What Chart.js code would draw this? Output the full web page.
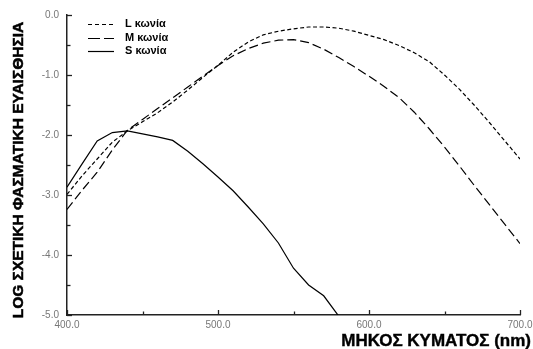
<!DOCTYPE html>
<html>
<head>
<meta charset="utf-8">
<script src="https://cdn.jsdelivr.net/npm/chart.js@4"></script>
<style>
html,body{margin:0;padding:0;background:#fff;}
#wrap{width:533px;height:349px;}
</style>
</head>
<body>
<div id="wrap"><canvas id="c" width="533" height="349"></canvas></div>
<script>
// ---- data ----
const wavelengthsLM = [400,410,420,430,440,450,460,470,480,490,500,510,520,530,540,550,560,570,580,590,600,610,620,630,640,650,660,670,680,690,700];
const lCone = [-2.99,-2.68,-2.40,-2.12,-1.93,-1.78,-1.63,-1.45,-1.25,-1.04,-0.84,-0.62,-0.45,-0.33,-0.27,-0.23,-0.20,-0.20,-0.22,-0.27,-0.34,-0.41,-0.51,-0.63,-0.78,-1.00,-1.24,-1.51,-1.80,-2.10,-2.40];
const mCone = [-3.24,-2.92,-2.62,-2.25,-1.92,-1.74,-1.56,-1.38,-1.20,-1.02,-0.84,-0.68,-0.56,-0.47,-0.42,-0.41,-0.46,-0.57,-0.71,-0.86,-1.02,-1.19,-1.38,-1.62,-1.90,-2.20,-2.52,-2.85,-3.17,-3.49,-3.81];
const wavelengthsS = [400,410,420,430,440,450,460,470,480,490,500,510,520,530,540,550,560,570,580];
const sCone = [-2.87,-2.48,-2.10,-1.96,-1.93,-1.98,-2.03,-2.09,-2.27,-2.48,-2.70,-2.93,-3.20,-3.48,-3.80,-4.22,-4.50,-4.68,-5.02];
const seriesLabels = ['L κωνία','M κωνία','S κωνία'];
const xTicks = [400,500,600,700];
const yTicks = [0,-1,-2,-3,-4,-5];
const xTitle = 'ΜΗΚΟΣ ΚΥΜΑΤΟΣ (nm)';
const yTitle = 'LOG ΣΧΕΤΙΚΗ ΦΑΣΜΑΤΙΚΗ ΕΥΑΙΣΘΗΣΙΑ';

const toXY = (xs, ys) => xs.map((x, i) => ({x: x, y: ys[i]}));

const FONT = "'Liberation Sans', Arial, sans-serif";

// inward major/minor ticks drawn from the scales
const tickPlugin = {
  id: 'inwardTicks',
  afterDraw(chart) {
    const ctx = chart.ctx, xs = chart.scales.x, ys = chart.scales.y;
    const a = chart.chartArea;
    ctx.save();
    ctx.strokeStyle = '#222';
    ctx.lineWidth = 1.3;
    for (let v = xs.min; v <= xs.max + 1e-9; v += 50) {
      const px = Math.round(xs.getPixelForValue(v)) + 0.5;
      const len = (v % 100 === 0) ? 5 : 3.5;
      ctx.beginPath(); ctx.moveTo(px, a.bottom); ctx.lineTo(px, a.bottom - len); ctx.stroke();
    }
    for (let v = ys.min; v <= ys.max + 1e-9; v += 0.5) {
      const py = Math.round(ys.getPixelForValue(v)) + 0.5;
      const len = (Math.abs(v % 1) < 1e-9) ? 5 : 3.5;
      ctx.beginPath(); ctx.moveTo(a.left, py); ctx.lineTo(a.left + len, py); ctx.stroke();
    }
    ctx.restore();
  }
};

// axis titles
const titlePlugin = {
  id: 'axisTitles',
  afterDraw(chart) {
    const ctx = chart.ctx;
    ctx.save();
    ctx.fillStyle = '#000';
    ctx.strokeStyle = '#000';
    ctx.lineWidth = 0.5;
    ctx.font = 'bold 15.5px ' + FONT;
    ctx.textAlign = 'center';
    ctx.textBaseline = 'middle';
    ctx.translate(19, 170);
    ctx.rotate(-Math.PI / 2);
    ctx.fillText(yTitle, 0, 0);
    ctx.strokeText(yTitle, 0, 0);
    ctx.restore();
    ctx.save();
    ctx.fillStyle = '#000';
    ctx.strokeStyle = '#000';
    ctx.lineWidth = 0.4;
    ctx.font = 'bold 17px ' + FONT;
    ctx.textAlign = 'right';
    ctx.textBaseline = 'alphabetic';
    ctx.fillText(xTitle, 531, 346);
    ctx.strokeText(xTitle, 531, 346);
    ctx.restore();
  }
};

// legend inside plot, top-left
const legendPlugin = {
  id: 'insideLegend',
  afterDraw(chart) {
    const ctx = chart.ctx, a = chart.chartArea;
    ctx.save();
    ctx.font = 'bold 11px ' + FONT;
    ctx.textBaseline = 'middle';
    ctx.textAlign = 'left';
    chart.data.datasets.forEach((ds, i) => {
      const y = a.top + 9 + i * 13.7;
      ctx.strokeStyle = '#000';
      ctx.lineWidth = 1.2;
      ctx.setLineDash(ds.legendDash || []);
      ctx.beginPath();
      ctx.moveTo(a.left + 21, Math.round(y) + 0.5);
      ctx.lineTo(a.left + 47, Math.round(y) + 0.5);
      ctx.stroke();
      ctx.setLineDash([]);
      ctx.fillStyle = '#000';
      ctx.fillText(ds.label, a.left + 58, y);
    });
    ctx.restore();
  }
};

new Chart(document.getElementById('c'), {
  type: 'line',
  data: {
    datasets: [
      {label: seriesLabels[0], data: toXY(wavelengthsLM, lCone), borderColor: '#000', borderWidth: 1.2, borderDash: [4, 2.5], legendDash: [4, 3], pointRadius: 0, tension: 0, fill: false},
      {label: seriesLabels[1], data: toXY(wavelengthsLM, mCone), borderColor: '#000', borderWidth: 1.2, borderDash: [9, 4], legendDash: [12, 4], pointRadius: 0, tension: 0, fill: false},
      {label: seriesLabels[2], data: toXY(wavelengthsS, sCone), borderColor: '#000', borderWidth: 1.2, pointRadius: 0, tension: 0, fill: false}
    ]
  },
  options: {
    responsive: false,
    animation: false,
    devicePixelRatio: 1,
    layout: {padding: {left: 0, top: 15, right: 13, bottom: 0}},
    plugins: {legend: {display: false}, tooltip: {enabled: false}},
    scales: {
      x: {
        type: 'linear', min: 400, max: 700,
        afterFit(s) { s.height = 34; s.paddingLeft = 0; s.paddingRight = 0; },
        afterBuildTicks(s) { s.ticks = xTicks.map(v => ({value: v})); },
        grid: {display: false, drawTicks: false},
        border: {display: true, color: '#222', width: 1.5},
        ticks: {
          padding: 4,
          color: '#777',
          font: {family: FONT, size: 10},
          maxRotation: 0,
          callback: v => Number(v).toFixed(1)
        }
      },
      y: {
        type: 'linear', min: -5, max: 0,
        afterFit(s) { s.width = 67; s.paddingTop = 0; s.paddingBottom = 0; },
        afterBuildTicks(s) { s.ticks = yTicks.map(v => ({value: v})); },
        grid: {display: false, drawTicks: false},
        border: {display: true, color: '#222', width: 1.5},
        ticks: {
          padding: 8,
          color: '#777',
          font: {family: FONT, size: 10},
          callback: v => Number(v).toFixed(1)
        }
      }
    }
  },
  plugins: [tickPlugin, legendPlugin, titlePlugin]
});
</script>
</body>
</html>
